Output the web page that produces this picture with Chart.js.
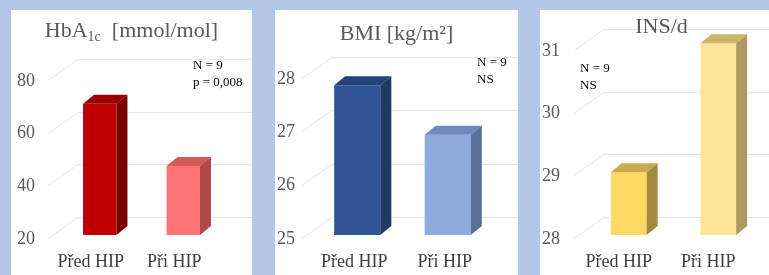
<!DOCTYPE html>
<html>
<head>
<meta charset="utf-8">
<script src="https://cdn.jsdelivr.net/npm/chart.js@4.4.1/dist/chart.umd.min.js"></script>
<style>
    body { margin: 0; width: 769px; height: 275px; overflow: hidden; position: relative; background: #b4c7e7; font-family: 'Liberation Serif', serif; }
    .panel { position: absolute; top: 10px; height: 265px; background: #fff; }
    .panel canvas { position: absolute; left: 0; top: 0; }
    .title { position: absolute; left: 0; width: 100%; text-align: center; color: #595959; font-size: 22px; line-height: 26px; white-space: nowrap; }
    .title sub { font-size: 14px; vertical-align: -4px; line-height: 0; }
    .note { position: absolute; color: #000; font-size: 13px; line-height: 17px; white-space: nowrap; }
</style>
</head>
<body>

<div class="panel" style="left:11px;width:241px">
    <canvas id="hba1c" width="241" height="265"></canvas>
    <div class="title" style="top:7px">HbA<sub>1c</sub>&nbsp; [mmol/mol]</div>
    <div class="note" style="left:182px;top:46px">N = 9<br>p = 0,008</div>
</div>
<div class="panel" style="left:275px;width:243px">
    <canvas id="bmi" width="243" height="265"></canvas>
    <div class="title" style="top:10px">BMI [kg/m²]</div>
    <div class="note" style="left:202px;top:43px">N = 9<br>NS</div>
</div>
<div class="panel" style="left:540px;width:243px">
    <canvas id="ins" width="243" height="265"></canvas>
    <div class="title" style="top:3px">INS/d</div>
    <div class="note" style="left:40px;top:49px">N = 9<br>NS</div>
</div>

<script>
const categories = ['Před HIP', 'Při HIP'];

const hba1cValues = [69.8, 46.2];
const hba1cTicks = [20, 40, 60, 80];

const bmiValues = [27.81, 26.88];
const bmiTicks = [25, 26, 27, 28];

const insValues = [29.0, 31.06];
const insTicks = [28, 29, 30, 31];

// fake 3d: back grid lines before, top + side faces after the bars
const bars3d = {
    id: 'bars3d',
    beforeDatasetsDraw(chart, args, opts) {
        let ctx = chart.ctx;
        let y = chart.scales.y;
        let area = chart.chartArea;
        ctx.save();
        ctx.strokeStyle = '#e6e6e6';
        ctx.lineWidth = 1;
        y.ticks.forEach(t => {
            let py = Math.round(y.getPixelForValue(t.value)) + 0.5;
            ctx.beginPath();
            ctx.moveTo(area.left - 10, py + 3);
            ctx.lineTo(area.left + 20, py - 18);
            ctx.lineTo(chart.width, py - 18);
            ctx.stroke();
        });
        ctx.restore();
    },
    afterDatasetsDraw(chart, args, opts) {
        let ctx = chart.ctx;
        let meta = chart.getDatasetMeta(0);
        let dx = opts.dx, dy = opts.dy;
        ctx.save();
        meta.data.forEach((bar, i) => {
            let l = bar.x - bar.width / 2;
            let r = bar.x + bar.width / 2;
            let top = bar.y;
            let base = bar.base;

            ctx.fillStyle = opts.top[i];
            ctx.beginPath();
            ctx.moveTo(l, top);
            ctx.lineTo(l + dx, top + dy);
            ctx.lineTo(r + dx, top + dy);
            ctx.lineTo(r, top);
            ctx.closePath();
            ctx.fill();

            ctx.fillStyle = opts.side[i];
            ctx.beginPath();
            ctx.moveTo(r, top);
            ctx.lineTo(r + dx, top + dy);
            ctx.lineTo(r + dx, base + dy);
            ctx.lineTo(r, base);
            ctx.closePath();
            ctx.fill();
        });
        ctx.restore();
    }
};

let makeChart = (id, values, ticks, cfg) => {
    let ctx = document.getElementById(id).getContext('2d');
    return new Chart(ctx, {
        type: 'bar',
        data: {
            labels: categories,
            datasets: [{
                data: values,
                base: ticks[0],
                backgroundColor: cfg.front,
                barPercentage: cfg.barPct,
                categoryPercentage: 1,
                clip: false
            }]
        },
        options: {
            responsive: false,
            animation: false,
            layout: {
                padding: {top: cfg.top, right: cfg.right, left: 0, bottom: 0}
            },
            plugins: {
                legend: {display: false},
                tooltip: {enabled: false},
                bars3d: {dx: 11, dy: -9, top: cfg.topFace, side: cfg.sideFace}
            },
            scales: {
                x: {
                    grid: {display: false, drawTicks: false},
                    border: {display: false},
                    afterFit: s => { s.height = 40; },
                    ticks: {
                        color: '#404040',
                        font: {family: 'Liberation Serif', size: 18},
                        padding: 16,
                        labelOffset: cfg.labelShift
                    }
                },
                y: {
                    min: ticks[0],
                    max: ticks[ticks.length - 1],
                    grid: {display: false, drawTicks: false},
                    border: {display: false},
                    afterFit: s => { s.width = cfg.left; },
                    afterBuildTicks: s => { s.ticks = ticks.map(v => ({value: v})); },
                    ticks: {
                        color: '#595959',
                        font: {family: 'Liberation Serif', size: 18},
                        padding: cfg.tickPad,
                        labelOffset: 4
                    }
                }
            }
        },
        plugins: [bars3d]
    });
};

makeChart('hba1c', hba1cValues, hba1cTicks, {
    front: ['#c00000', '#ff7575'],
    topFace: ['#9a0000', '#d45a5a'],
    sideFace: ['#7a0000', '#b04848'],
    barPct: 0.4, top: 67, right: 27, left: 47, tickPad: 23, labelShift: -9
});

makeChart('bmi', bmiValues, bmiTicks, {
    front: ['#2f5597', '#8faadc'],
    topFace: ['#24427a', '#6f89bb'],
    sideFace: ['#1f3864', '#5a6f9a'],
    barPct: 0.51, top: 65, right: 25, left: 37, tickPad: 17, labelShift: -3
});

makeChart('ins', insValues, insTicks, {
    front: ['#ffd966', '#ffe699'],
    topFace: ['#c9aa4e', '#cdb56a'],
    sideFace: ['#a38a3e', '#ad9a5e'],
    barPct: 0.4, top: 37, right: 20, left: 44, tickPad: 24, labelShift: -10
});
</script>
</body>
</html>
